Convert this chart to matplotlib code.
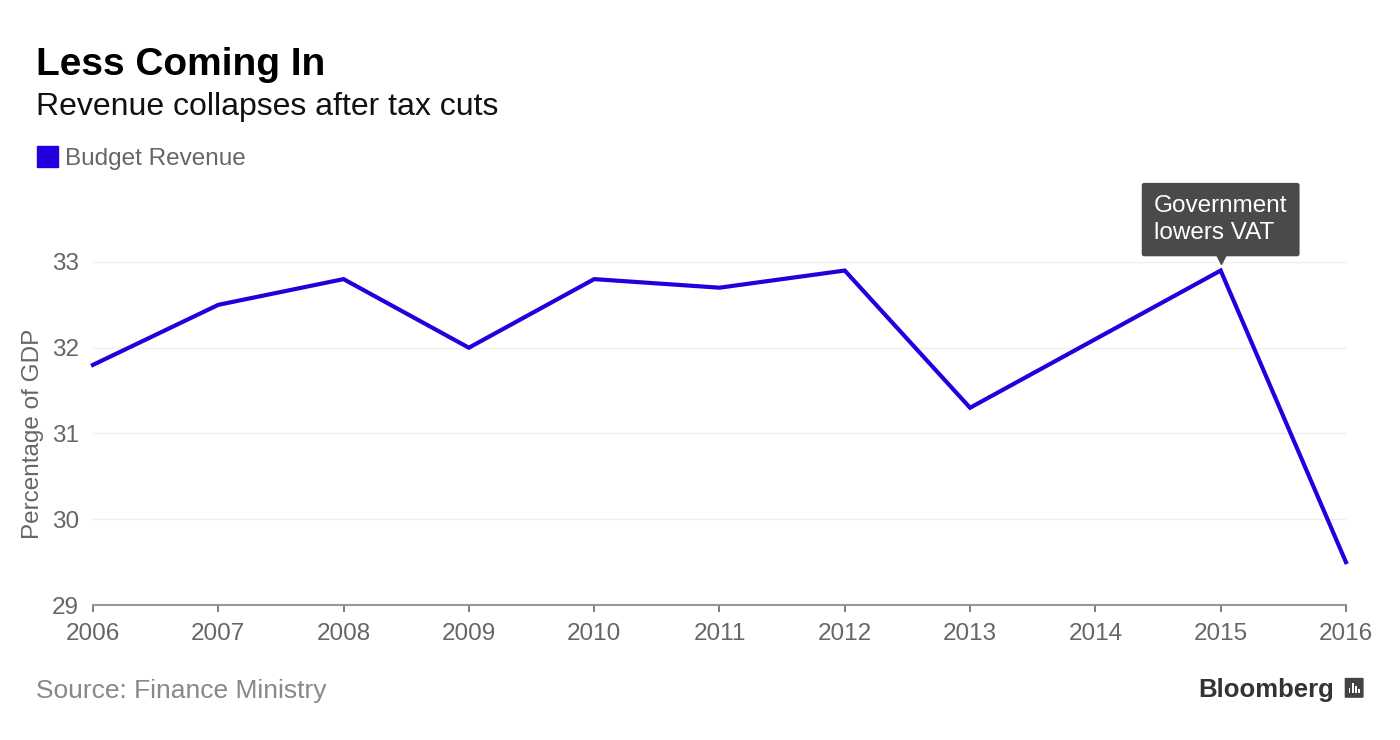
import matplotlib.pyplot as plt
import matplotlib.transforms as mtransforms
from matplotlib.patches import Rectangle, FancyBboxPatch

plt.rcParams['font.family'] = ['Liberation Sans', 'DejaVu Sans']

# Budget revenue, percentage of GDP
years = [2006, 2007, 2008, 2009, 2010, 2011, 2012, 2013, 2014, 2015, 2016]
revenue = [31.8, 32.5, 32.8, 32.0, 32.8, 32.7, 32.9, 31.3, 32.1, 32.9, 29.5]
y_ticks = [29, 30, 31, 32, 33]

line_color = '#2200dd'
grey = '#666666'

fig = plt.figure(figsize=(14, 7.4), dpi=100)
ax = fig.add_axes([0.0664, 0.1824, 0.895, 0.4636])

ax.plot(years, revenue, color=line_color, linewidth=3, solid_joinstyle='miter', clip_on=False)

ax.set_xlim(2006, 2016)
ax.set_ylim(29, 33)
ax.set_xticks(years)
ax.set_yticks(y_ticks)
ax.tick_params(axis='x', colors=grey, labelsize=17.5, length=5, width=1.2, direction='out', pad=8)
ax.tick_params(axis='y', colors=grey, labelsize=17.5, length=0, pad=10)
ax.yaxis.grid(True, color='#eeeeee', linewidth=1)
ax.set_axisbelow(True)
for side in ['top', 'right', 'left']:
    ax.spines[side].set_visible(False)
ax.spines['bottom'].set_color('#999999')
ax.spines['bottom'].set_linewidth(1.5)
ax.set_ylabel('Percentage of GDP', color=grey, fontsize=17.5, labelpad=6)

# annotation at 2015
note_year = 2015
note_val = revenue[years.index(note_year)]
box_color = '#4a4a4a'
ax.annotate('Government\nlowers VAT', xy=(note_year, note_val), xytext=(0, 19),
            textcoords='offset points', ha='center', va='bottom', color='white',
            fontsize=17.5, multialignment='left', linespacing=1.3,
            bbox=dict(boxstyle='round,pad=0.5,rounding_size=0.1', fc=box_color, ec='none'),
            annotation_clip=False)
tri = mtransforms.offset_copy(ax.transData, fig=fig, x=0, y=8, units='points')
ax.plot([note_year], [note_val], marker='v', markersize=7, color=box_color,
        transform=tri, clip_on=False)

# titles and legend
fig.text(0.026, 0.898, 'Less Coming In', fontsize=28, fontweight='bold', color='black')
fig.text(0.026, 0.845, 'Revenue collapses after tax cuts', fontsize=23, color='#111111')
fig.patches.append(Rectangle((0.0264, 0.775), 0.015, 0.028, transform=fig.transFigure,
                             color=line_color))
fig.text(0.0465, 0.777, 'Budget Revenue', fontsize=17.5, color=grey)

# footer
fig.text(0.026, 0.057, 'Source: Finance Ministry', fontsize=19, color='#888888')
fig.text(0.953, 0.058, 'Bloomberg', fontsize=18.5, fontweight='bold', color='#333333', ha='right')
fig.patches.append(FancyBboxPatch((0.9615, 0.058), 0.0115, 0.025,
                                  boxstyle='round,pad=0.001', transform=fig.transFigure,
                                  fc='#444444', ec='none'))
for i, h in enumerate([0.007, 0.014, 0.010, 0.006]):
    fig.patches.append(Rectangle((0.9635 + i * 0.0022, 0.063), 0.0011, h,
                                 transform=fig.transFigure, fc='white', ec='none'))

fig.savefig('out.png', dpi=100, facecolor='white')
